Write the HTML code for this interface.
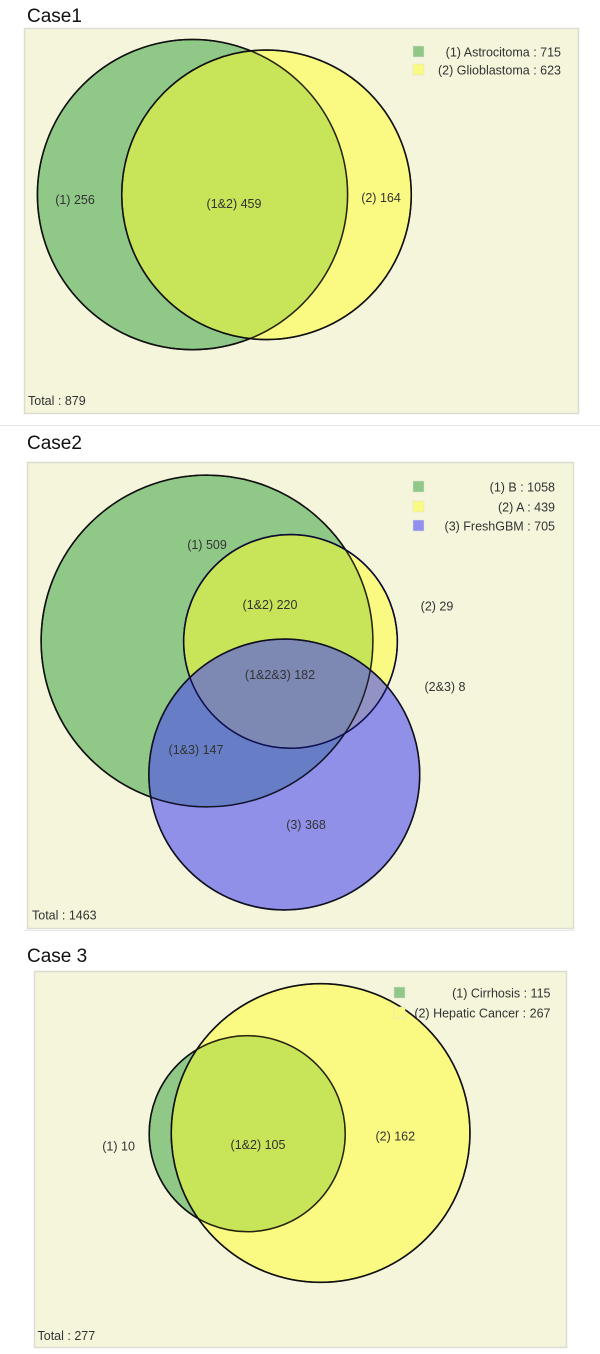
<!DOCTYPE html>
<html><head><meta charset="utf-8"><style>
html,body{margin:0;padding:0;background:#fff;}
svg{display:block;}
text{font-family:"Liberation Sans",Arial,sans-serif;}
</style></head><body>
<svg id="c" width="600" height="1354" viewBox="0 0 600 1354" xmlns="http://www.w3.org/2000/svg"></svg>
<script>
// Case 1 data
const case1Sets = ["(1) Astrocitoma", "(2) Glioblastoma"];
const case1Sizes = [715, 623];
const case1RegionLabels = ["(1)", "(1&2)", "(2)"];
const case1RegionValues = [256, 459, 164];
const case1Total = 879;
// Case 2 data
const case2Sets = ["(1) B", "(2) A", "(3) FreshGBM"];
const case2Sizes = [1058, 439, 705];
const case2RegionLabels = ["(1)", "(1&2)", "(2)", "(1&2&3)", "(2&3)", "(1&3)", "(3)"];
const case2RegionValues = [509, 220, 29, 182, 8, 147, 368];
const case2Total = 1463;
// Case 3 data
const case3Sets = ["(1) Cirrhosis", "(2) Hepatic Cancer"];
const case3Sizes = [115, 267];
const case3RegionLabels = ["(1)", "(1&2)", "(2)"];
const case3RegionValues = [10, 105, 162];
const case3Total = 277;

const NS = "http://www.w3.org/2000/svg";
const svg = document.getElementById('c');
function mk(tag, attrs, parent){
  const e = document.createElementNS(NS, tag);
  for (const k in attrs) e.setAttribute(k, attrs[k]);
  (parent || svg).appendChild(e);
  return e;
}
const fills = [
  {fill:"#90c888", op:1},
  {fill:"#ffff28", op:0.5},
  {fill:"#4d4df0", op:0.6}
];
const legendFills = ["#90c888", "#fafa80", "#9090ee"];

function drawCase(cfg){
  const g = mk('g', {});
  
  
  const t = mk('text', {x: cfg.titleX, y: cfg.titleY, 'font-size': 19, fill: '#111', 'font-family': '"Liberation Sans","NanumGothic",sans-serif'}, g);
  t.textContent = cfg.title;
  
  
  const p = mk('rect', {x: cfg.panel[0]+0.5, y: cfg.panel[1]+0.5, width: cfg.panel[2], height: cfg.panel[3], fill: '#f5f5dc', stroke: '#dcdcd0', 'stroke-width': 1.5}, g);
  
  
  // circles: radius scales with sqrt(set size)
  cfg.sizes.forEach((s, i) => {
    const r = cfg.k * Math.sqrt(s);
    const c = mk('circle', {cx: cfg.centers[i][0], cy: cfg.centers[i][1], r: r, fill: fills[i].fill, 'fill-opacity': fills[i].op, stroke: i===2 ? '#1a1a55' : '#111', 'stroke-width': 1.6}, g);
    
    
  });
  // redraw outlines on top
  cfg.sizes.forEach((s, i) => {
    const r = cfg.k * Math.sqrt(s);
    const c = mk('circle', {cx: cfg.centers[i][0], cy: cfg.centers[i][1], r: r, fill: 'none', stroke: i===1 && cfg.sizes.length===3 ? '#0a0a40' : '#111', 'stroke-width': 1.4, 'stroke-opacity': 0.85}, g);
    
    
  });
  cfg.labels.forEach((lab, i) => {
    const tx = mk('text', {x: cfg.labelPos[i][0], y: cfg.labelPos[i][1] + 4, 'font-size': 12.5, fill: '#333', 'text-anchor': 'middle'}, g);
    tx.textContent = lab + ' ' + cfg.values[i];
    
    
  });
  cfg.sets.forEach((nm, i) => {
    const y = cfg.legendY[i];
    const sq = mk('rect', {x: cfg.legendSqX, y: y - 6, width: 11, height: 11, fill: legendFills[i], stroke: '#ddd', 'stroke-width': 0.5}, g);
    
    
    const lt = mk('text', {x: cfg.legendTextX, y: y + 4.5, 'font-size': 12.5, fill: '#333', 'text-anchor': 'end'}, g);
    lt.textContent = nm + ' : ' + cfg.sizes[i];
    
    
  });
  const tt = mk('text', {x: cfg.totalPos[0], y: cfg.totalPos[1] + 4, 'font-size': 12.5, fill: '#333'}, g);
  tt.textContent = 'Total : ' + cfg.total;
  
  
}

drawCase({name:'case1-venn', title:'Case1', titleX:27, titleY:22, panel:[24,28,554,385], k:5.8,
  centers:[[192.5,194.6],[266.5,194.8]], sizes:case1Sizes, sets:case1Sets,
  labels:case1RegionLabels, values:case1RegionValues,
  labelPos:[[75,200],[234,204],[381,198]],
  legendSqX:413, legendTextX:561, legendY:[52,70], totalPos:[28,401], total:case1Total});

const sep1 = mk('line', {x1:0, y1:425.5, x2:600, y2:425.5, stroke:'#e4e4e4', 'stroke-width':1});



drawCase({name:'case2-venn', title:'Case2', titleX:27, titleY:449, panel:[27,462,546,466], k:5.1,
  centers:[[207,641],[290.5,641.4],[284.3,774.5]], sizes:case2Sizes, sets:case2Sets,
  labels:case2RegionLabels, values:case2RegionValues,
  labelPos:[[207,545],[270,605],[437,606.5],[280,675],[445,687],[196,750],[306,825]],
  legendSqX:413, legendTextX:555, legendY:[487,507,526], totalPos:[32,915.5], total:case2Total});

const sep2 = mk('line', {x1:24, y1:930.5, x2:574, y2:930.5, stroke:'#e8e8e8', 'stroke-width':1});



drawCase({name:'case3-venn', title:'Case 3', titleX:27, titleY:962, panel:[34,971,532,376], k:9.14,
  centers:[[247.2,1133.7],[320.6,1133]], sizes:case3Sizes, sets:case3Sets,
  labels:case3RegionLabels, values:case3RegionValues,
  labelPos:[[118.6,1146.5],[258,1144.8],[395.3,1136.4]],
  legendSqX:394, legendTextX:550.5, legendY:[993,1013], totalPos:[37.5,1336], total:case3Total});
</script>
</body></html>
